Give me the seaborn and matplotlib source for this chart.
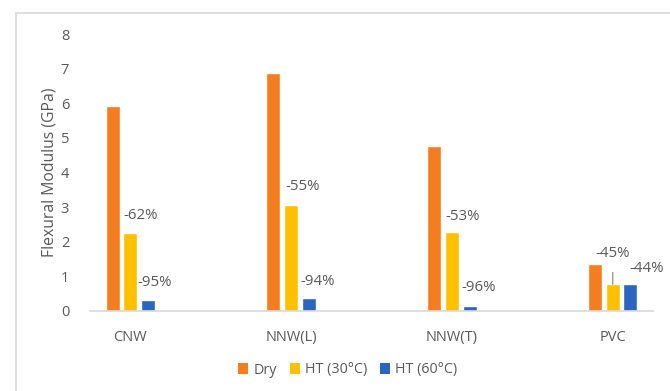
import matplotlib
matplotlib.use("Agg")
import matplotlib.pyplot as plt
import seaborn as sns
import pandas as pd
from matplotlib.patches import Patch, Rectangle

categories = ["CNW", "NNW(L)", "NNW(T)", "PVC"]
series = ["Dry", "HT (30°C)", "HT (60°C)"]
dry = [5.91, 6.86, 4.77, 1.37]
ht30 = [2.25, 3.07, 2.27, 0.77]
ht60 = [0.32, 0.38, 0.15, 0.77]
labels30 = ["-62%", "-55%", "-53%", "-45%"]
labels60 = ["-95%", "-94%", "-96%", "-44%"]
colors = ["#F47D20", "#FFC000", "#2A65C0"]

rows = []
for s, vals in zip(series, [dry, ht30, ht60]):
    for c, v in zip(categories, vals):
        rows.append({"cat": c, "series": s, "val": v})
df = pd.DataFrame(rows)

sns.set_theme(style="white")
plt.rcParams["font.family"] = ["Open Sans", "DejaVu Sans"]
TXT = "#595959"

fig = plt.figure(figsize=(6.70, 3.91), dpi=100)
fig.patches.append(Rectangle((16 / 670, -0.1), 2, 1 - 13 / 391 + 0.1,
                             transform=fig.transFigure, fill=False,
                             edgecolor="#D9D9D9", lw=1.2, zorder=0))
ax = fig.add_axes([90 / 670, 1 - 311 / 391, 563 / 670, 277 / 391])

sns.barplot(data=df, x="cat", y="val", hue="series", palette=colors,
            width=0.33, gap=0.21, dodge=True, ax=ax, legend=False,
            saturation=1, errorbar=None)

ax.set_xlim(-0.25, 3.25)
ax.set_ylim(0, 8)
ax.set_yticks(range(0, 9))
ax.set_xlabel("")
ax.set_ylabel("Flexural Modulus (GPa)", color=TXT, fontsize=11.3)
ax.yaxis.label.set_va("center")
ax.yaxis.set_label_coords(-40 / 563, 0.5)
ax.tick_params(axis="y", length=0, pad=15, labelsize=10.5, labelcolor=TXT)
ax.tick_params(axis="x", length=0, pad=14, labelsize=10.5, labelcolor=TXT)
for side in ["top", "right", "left"]:
    ax.spines[side].set_visible(False)
ax.spines["bottom"].set_color("#D9D9D9")
ax.spines["bottom"].set_linewidth(1.2)
ax.grid(False)

# data labels
off30 = [(10, 18), (12, 18), (11, 16), (0, 31)]
off60 = [(7, 17), (9, 16), (9, 18), (16, 16)]
step = 0.11
for i in range(len(categories)):
    x30 = i
    x60 = i + step
    kw = dict(textcoords="offset pixels", ha="center", va="center",
              fontsize=10.8, color=TXT)
    if i == 3:
        ax.annotate(labels30[i], xy=(x30, ht30[i]), xytext=off30[i],
                    arrowprops=dict(arrowstyle="-", color="#7F7F7F", lw=0.8,
                                    shrinkA=6, shrinkB=0), **kw)
    else:
        ax.annotate(labels30[i], xy=(x30, ht30[i]), xytext=off30[i], **kw)
    ax.annotate(labels60[i], xy=(x60, ht60[i]), xytext=off60[i], **kw)

handles = [Patch(facecolor=c, edgecolor="none", label=s) for c, s in zip(colors, series)]
fig.legend(handles=handles, loc="center", bbox_to_anchor=(0.519, 1 - 370 / 391),
           ncol=3, frameon=False, fontsize=10.3, labelcolor=TXT,
           handlelength=0.7, handleheight=0.7, handletextpad=0.35,
           columnspacing=0.9)

fig.savefig("out.png", dpi=100)
